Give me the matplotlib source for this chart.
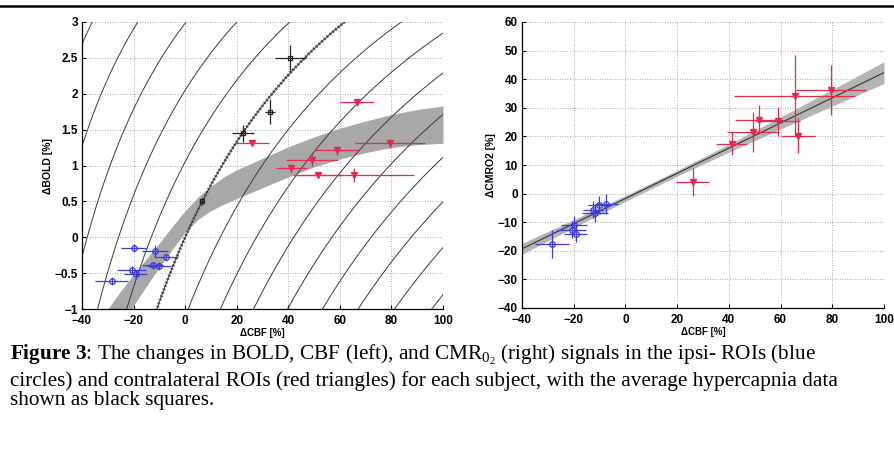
import numpy as np
import matplotlib
matplotlib.use('Agg')
import matplotlib.pyplot as plt
from matplotlib.lines import Line2D

# ---------------- data ----------------
# Davis-model iso-CMRO2 contour parameters (left panel)
M_davis = 7.2
alpha_grubb = 0.38
beta_davis = 1.5
r_levels = [0.5, 0.6, 0.7, 0.8, 0.9, 1.0, 1.1, 1.2, 1.3, 1.4, 1.5, 1.6, 1.7, 1.8]

# grey coupling band (left panel)
band_x = [-30, -25, -20, -15, -10, -5, 0, 5, 10, 15, 20, 30, 40, 50, 60, 70, 80, 90, 100]
band_upper = [-1.0, -0.75, -0.52, -0.30, -0.08, 0.15, 0.37, 0.56, 0.71, 0.84, 0.94,
              1.10, 1.26, 1.40, 1.52, 1.62, 1.71, 1.78, 1.83]
band_lower = [-1.6, -1.3, -0.95, -0.68, -0.42, -0.17, 0.07, 0.25, 0.37, 0.46, 0.54,
              0.69, 0.84, 0.98, 1.09, 1.18, 1.25, 1.29, 1.31]

# ipsilateral ROIs (blue)
cbf_ipsi = [-20.0, -11.7, -7.4, -12.6, -10.1, -20.8, -19.2, -28.5]
cbf_ipsi_err = [5.0, 5.0, 4.5, 4.0, 4.5, 5.5, 4.5, 6.5]
bold_ipsi = [-0.15, -0.19, -0.28, -0.39, -0.40, -0.45, -0.51, -0.61]
bold_ipsi_err = [0.05, 0.08, 0.05, 0.05, 0.05, 0.05, 0.06, 0.06]
cmro2_ipsi = [-10.9, -6.8, -3.5, -5.6, -3.9, -12.6, -14.0, -17.6]
cmro2_ipsi_err = [3.0, 3.0, 3.5, 3.0, 3.0, 3.0, 3.0, 5.0]

# contralateral ROIs (red)
cbf_contra = [26.0, 41.2, 49.2, 51.7, 58.9, 65.4, 66.7, 79.4]
cbf_contra_err = [6.5, 6.0, 10.0, 9.5, 8.5, 23.5, 6.5, 13.5]
bold_contra = [1.32, 0.96, 1.08, 0.87, 1.21, 0.87, 1.88, 1.31]
bold_contra_err = [0.04, 0.06, 0.08, 0.04, 0.06, 0.10, 0.05, 0.06]
cmro2_contra = [4.1, 17.5, 21.4, 25.9, 25.3, 34.3, 20.3, 36.2]
cmro2_contra_err = [5.0, 4.0, 7.0, 5.0, 5.0, 14.0, 6.0, 8.7]

# hypercapnia averages (black)
cbf_hc = [6.4, 22.4, 32.9, 40.7]
cbf_hc_err = [1.0, 4.2, 2.0, 6.0]
bold_hc = [0.50, 1.45, 1.75, 2.50]
bold_hc_err = [0.05, 0.12, 0.17, 0.18]

# right panel regression
reg_slope = 0.44
reg_intercept = -1.7
reg_band_x = [-40, -20, 0, 20, 40, 60, 80, 100]
reg_band_half = [1.9, 1.4, 1.0, 1.0, 1.4, 2.1, 2.9, 3.8]

xticks = [-40, -20, 0, 20, 40, 60, 80, 100]
yticks_left = [-1, -0.5, 0, 0.5, 1, 1.5, 2, 2.5, 3]
yticks_right = [-40, -30, -20, -10, 0, 10, 20, 30, 40, 50, 60]

caption_lines = [
    r'$\mathbf{Figure\ 3}$: The changes in BOLD, CBF (left), and CMR$_{0_{2}}$ (right) signals in the ipsi- ROIs (blue',
    'circles) and contralateral ROIs (red triangles) for each subject, with the average hypercapnia data',
    'shown as black squares.',
]

# ---------------- style ----------------
plt.rcParams['font.family'] = ['Liberation Sans', 'DejaVu Sans']
plt.rcParams['mathtext.fontset'] = 'custom'
plt.rcParams['mathtext.rm'] = 'Liberation Serif'
plt.rcParams['mathtext.it'] = 'Liberation Serif:italic'
plt.rcParams['mathtext.bf'] = 'Liberation Serif:bold'
plt.rcParams['axes.unicode_minus'] = True

BLUE = '#3b3bdc'
RED = '#e5294f'
GRID = dict(color='#8c8c8c', linestyle=(0, (1, 2)), linewidth=0.6)

W, H = 894, 451
fig = plt.figure(figsize=(W / 100, H / 100), dpi=100)

def px_axes(x0, y0, x1, y1):
    return fig.add_axes([x0 / W, 1 - y1 / H, (x1 - x0) / W, (y1 - y0) / H])

axL = px_axes(82, 22, 443, 309)
axR = px_axes(522, 22, 884, 308)

def style(ax, yticks, ylabel):
    ax.set_xlim(-40, 100)
    ax.set_xticks(xticks)
    ax.set_yticks(yticks)
    ax.set_ylim(yticks[0], yticks[-1])
    ax.grid(True, **GRID)
    ax.set_axisbelow(True)
    for s in ('top', 'right'):
        ax.spines[s].set_visible(False)
    for s in ('left', 'bottom'):
        ax.spines[s].set_linewidth(0.9)
    ax.tick_params(direction='in', length=3, width=0.8, labelsize=8.5, pad=3)
    ax.tick_params(axis='x', pad=4)
    for lab in ax.get_xticklabels() + ax.get_yticklabels():
        lab.set_fontweight('bold')
    ax.set_xlabel('ΔCBF [%]', fontsize=7, fontweight='bold', labelpad=1)
    ax.set_ylabel(ylabel, fontsize=7.5, fontweight='bold', labelpad=1)

style(axL, yticks_left, 'ΔBOLD [%]')
style(axR, yticks_right, 'ΔCMRO2 [%]')
axL.set_yticklabels(['−1', '−0.5', '0', '0.5', '1', '1.5', '2', '2.5', '3'])

# ---- left panel ----
axL.fill_between(band_x, band_lower, band_upper, color='#a8a8a8', lw=0, zorder=1)

xs = np.linspace(-40, 100, 600)
f = 1 + xs / 100.0
for r in r_levels:
    yb = M_davis * (1 - f ** (alpha_grubb - beta_davis) * r ** beta_davis)
    if abs(r - 1.0) < 1e-9:
        axL.plot(xs, yb, color='#6e6e6e', lw=2.2, ls=(0, (0.6, 0.6)), zorder=3)
        axL.plot(xs, yb, color='#222222', lw=0.6, zorder=3)
    else:
        axL.plot(xs, yb, color='#3a3a3a', lw=0.7, zorder=2)

eb = dict(fmt='none', elinewidth=0.9, capsize=0, zorder=4)
axL.errorbar(cbf_ipsi, bold_ipsi, xerr=cbf_ipsi_err, yerr=bold_ipsi_err, ecolor=BLUE, **eb)
axL.plot(cbf_ipsi, bold_ipsi, 'o', ms=4, mfc='none', mec=BLUE, mew=0.9, zorder=5)
axL.errorbar(cbf_contra, bold_contra, xerr=cbf_contra_err, yerr=bold_contra_err, ecolor=RED, **eb)
axL.plot(cbf_contra, bold_contra, 'v', ms=4, mfc=RED, mec=RED, zorder=5)
axL.errorbar(cbf_hc, bold_hc, xerr=cbf_hc_err, yerr=bold_hc_err, ecolor='#222222', **eb)
axL.plot(cbf_hc, bold_hc, 's', ms=3.5, mfc='none', mec='#222222', mew=0.9, zorder=5)

# ---- right panel ----
rx = np.array(reg_band_x, dtype=float)
ry = reg_slope * rx + reg_intercept
axR.fill_between(rx, ry - np.array(reg_band_half), ry + np.array(reg_band_half),
                 color='#b4b4b4', lw=0, zorder=1)
axR.plot(rx, ry, color='#333333', lw=0.8, zorder=2)
axR.errorbar(cbf_ipsi, cmro2_ipsi, xerr=cbf_ipsi_err, yerr=cmro2_ipsi_err, ecolor=BLUE, **eb)
axR.plot(cbf_ipsi, cmro2_ipsi, 'o', ms=4, mfc='none', mec=BLUE, mew=0.9, zorder=5)
axR.errorbar(cbf_contra, cmro2_contra, xerr=cbf_contra_err, yerr=cmro2_contra_err, ecolor=RED, **eb)
axR.plot(cbf_contra, cmro2_contra, 'v', ms=4, mfc=RED, mec=RED, zorder=5)

# ---- top rule ----
fig.add_artist(Line2D([0, 1], [1 - 6 / H, 1 - 6 / H], transform=fig.transFigure,
                      color='black', lw=1.8))

# ---- caption ----
baselines = [360, 386, 405]
texts = []
for line, yb in zip(caption_lines, baselines):
    t = fig.text(10 / W, 1 - yb / H, line, fontsize=10, family='Liberation Serif',
                 ha='left', va='baseline')
    texts.append(t)
fig.canvas.draw()
rend = fig.canvas.get_renderer()
target = 826.0
w = texts[1].get_window_extent(rend).width
fs = 10 * target / w
for t in texts:
    t.set_fontsize(fs)

fig.savefig('out.png', dpi=100)
